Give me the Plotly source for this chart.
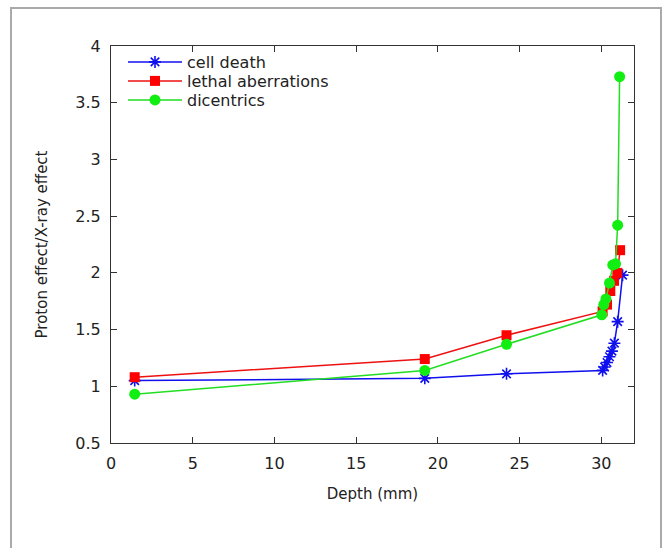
import plotly.graph_objects as go

# Data
cd_x = [1.45, 19.2, 24.2, 30.08, 30.2, 30.35, 30.5, 30.65, 30.8, 31.0, 31.3]
cd_y = [1.05, 1.07, 1.11, 1.14, 1.17, 1.21, 1.26, 1.31, 1.38, 1.57, 1.98]

la_x = [1.45, 19.2, 24.2, 30.08, 30.35, 30.55, 30.78, 30.98, 31.15]
la_y = [1.08, 1.24, 1.45, 1.66, 1.72, 1.84, 1.93, 2.0, 2.2]

dc_x = [1.45, 19.2, 24.2, 30.03, 30.15, 30.28, 30.5, 30.7, 30.87, 31.0, 31.12]
dc_y = [0.93, 1.14, 1.37, 1.63, 1.72, 1.77, 1.91, 2.07, 2.08, 2.42, 3.73]

x_ticks = [0, 5, 10, 15, 20, 25, 30]
y_ticks = [0.5, 1, 1.5, 2, 2.5, 3, 3.5, 4]

FONT = "DejaVu Sans"
TXT = "#222222"
L, R, T, B = 111, 33, 46, 105
W, H = 667, 548
pw, ph = W - L - R, H - T - B


def py2paper(py):
    return (H - B - py) / ph


def px2paper(px):
    return (px - L) / pw


fig = go.Figure()
fig.add_trace(go.Scatter(x=cd_x, y=cd_y, mode="lines+markers", name="cell death",
                         legend="legend",
                         line=dict(color="#1010ee", width=1.5),
                         marker=dict(symbol="asterisk-open", size=10,
                                     line=dict(color="#1010ee", width=1.6))))
fig.add_trace(go.Scatter(x=la_x, y=la_y, mode="lines+markers", name="lethal aberrations",
                         legend="legend2",
                         line=dict(color="#ee1111", width=1.5),
                         marker=dict(symbol="square", size=10, color="#ff0000")))
fig.add_trace(go.Scatter(x=dc_x, y=dc_y, mode="lines+markers", name="dicentrics",
                         legend="legend3",
                         line=dict(color="#22dd22", width=1.5),
                         marker=dict(symbol="circle", size=11, color="#11ee11")))

axis_common = dict(showline=True, linecolor="#333333", linewidth=1, mirror="ticks",
                   ticks="inside", ticklen=6, tickcolor="#333333", tickwidth=1,
                   showgrid=False, zeroline=False,
                   tickfont=dict(family=FONT, size=16, color=TXT))

fig.update_xaxes(range=[0, 32], tickvals=x_ticks, ticktext=[str(v) for v in x_ticks],
                 ticklabelstandoff=6,
                 title=dict(text="Depth (mm)", font=dict(family=FONT, size=15, color=TXT),
                            standoff=16), **axis_common)
fig.update_yaxes(range=[0.5, 4], tickvals=y_ticks, ticktext=[f"{v:g}" for v in y_ticks],
                 ticklabelstandoff=6,
                 title=dict(text="Proton effect/X-ray effect",
                            font=dict(family=FONT, size=15, color=TXT), standoff=24),
                 **axis_common)

# outer gray frame
fig.add_shape(type="rect", xref="paper", yref="paper",
              x0=px2paper(11), x1=px2paper(661),
              y0=py2paper(560), y1=py2paper(8),
              line=dict(color="#aaaaaa", width=2), fillcolor="rgba(0,0,0,0)", layer="below")

leg_common = dict(xanchor="left", yanchor="middle", bgcolor="rgba(0,0,0,0)",
                  itemwidth=54, font=dict(family=FONT, size=16, color=TXT))
lx = px2paper(123)
fig.update_layout(
    width=W, height=H,
    margin=dict(l=L, r=R, t=T, b=B),
    paper_bgcolor="white", plot_bgcolor="white",
    font=dict(family=FONT, size=15, color=TXT),
    showlegend=True,
    legend=dict(x=lx, y=py2paper(62), **leg_common),
    legend2=dict(x=lx, y=py2paper(81), **leg_common),
    legend3=dict(x=lx, y=py2paper(100), **leg_common),
)

fig.write_html("out.html")
